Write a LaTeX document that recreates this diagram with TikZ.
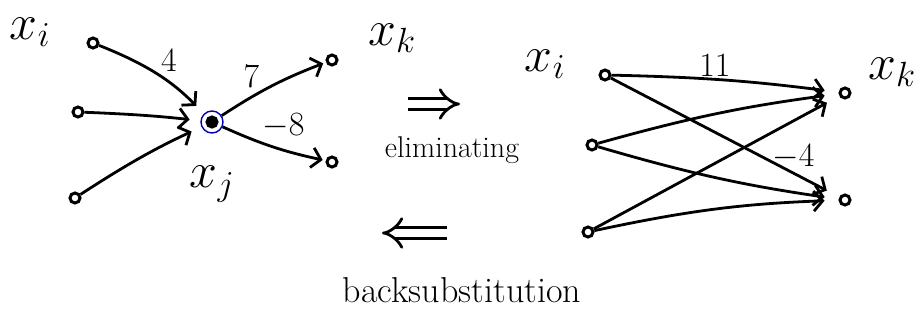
\RequirePackage{fix-cm}
\documentclass[tikz,border=0pt]{standalone}
\usepackage{amsmath,amssymb}
\usetikzlibrary{arrows.meta}
\tikzset{
 vtx/.style={circle,draw,line width=3pt,inner sep=0pt,minimum size=10pt},
 wire/.style={line width=2.8pt,-{Straight Barb[length=9pt,width=20pt]}},
 lbl/.style={font=\fontsize{50}{54}\selectfont},
 wlbl/.style={font=\fontsize{34}{36}\selectfont,inner sep=2pt},
 txt/.style={font=\fontsize{30}{32}\selectfont},
 impl/.style={line width=2.8pt,double distance=8pt,-{Implies}},
}
\begin{document}
\begin{tikzpicture}[x=1pt,y=-1pt]
 \useasboundingbox (0,0) rectangle (921,327);
 % before elimination
 \node[vtx] (a1) at (93,43) {};
 \node[vtx] (a2) at (78,112) {};
 \node[vtx] (a3) at (75,198) {};
 \node[vtx,fill] (j) at (212,122) {};
 \node[draw=blue!70!black,line width=1.4pt,circle,minimum size=22pt] (jring) at (j) {};
 \node[vtx] (c1) at (332,60) {};
 \node[vtx] (c2) at (332,162) {};
 \node[lbl] (xi) at (30,32) {$x_i$};
 \node[lbl] (xj) at (212,184) {$x_j$};
 \node[lbl] (xk) at (392,38) {$x_k$};
 \draw[wire,shorten >=16pt] (a1) to[bend left=12] node[wlbl,above right] {$4$} (j);
 \draw[wire,shorten >=16pt] (a2) to[bend left=2] (j);
 \draw[wire,shorten >=16pt] (a3) to[bend left=4] (j);
 \draw[wire,shorten >=3pt] (jring) to[bend left=6] node[wlbl,pos=0.4,above left] {$7$} (c1);
 \draw[wire,shorten >=3pt] (jring) to[bend right=6] node[wlbl,pos=0.35,above right] {$-8$} (c2);
 % arrows between the two graphs
 \coordinate (e1) at (408,104);
 \coordinate (e2) at (460,104);
 \draw[impl] (e1) -- (e2);
 \node[txt] (elim) at (452,150) {eliminating};
 \coordinate (b1) at (447,233);
 \coordinate (b2) at (382,233);
 \draw[impl] (b1) -- (b2);
 \node[txt,font=\fontsize{36}{38}\selectfont] (back) at (462,290) {backsubstitution};
 % after elimination
 \node[vtx] (r1) at (605,75) {};
 \node[vtx] (r2) at (592,145) {};
 \node[vtx] (r3) at (588,232) {};
 \node[vtx] (s1) at (845,93) {};
 \node[vtx] (s2) at (845,200) {};
 \node[lbl] (yi) at (545,64) {$x_i$};
 \node[lbl] (yk) at (892,72) {$x_k$};
 \draw[wire,shorten >=14pt] (r1) to[bend left=3] node[wlbl,pos=0.45,above] {$11$} (s1);
 \draw[wire,shorten >=14pt] (r1) to node[wlbl,pos=0.8,above] {$-4$} (s2);
 \draw[wire,shorten >=14pt] (r2) to[bend left=4] (s1);
 \draw[wire,shorten >=14pt] (r2) to[bend right=4] (s2);
 \draw[wire,shorten >=14pt] (r3) to (s1);
 \draw[wire,shorten >=14pt] (r3) to[bend left=5] (s2);
\end{tikzpicture}
\end{document}
